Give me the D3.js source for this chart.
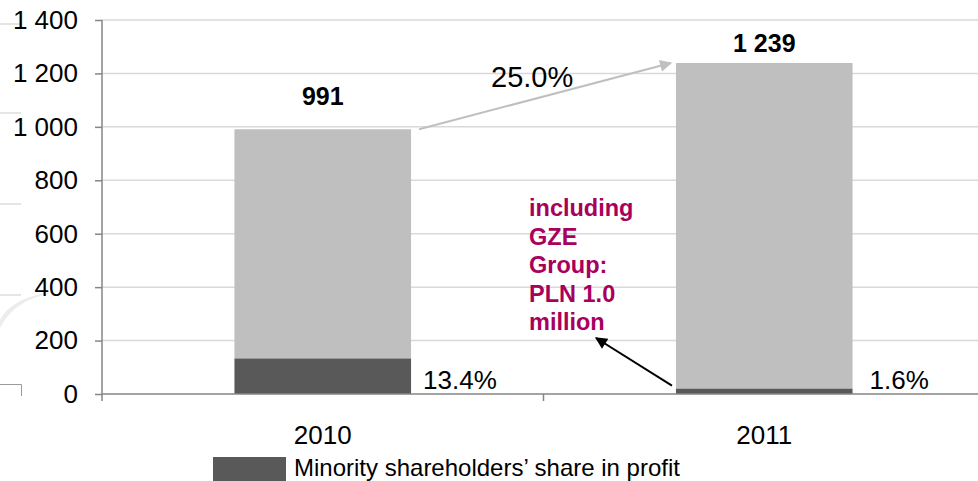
<!DOCTYPE html>
<html>
<head>
<meta charset="utf-8">
<script src="https://cdn.jsdelivr.net/npm/d3@7"></script>
<style>
  html, body { margin: 0; padding: 0; background: #fff; }
  svg { display: block; font-family: Arial, "Liberation Sans", sans-serif; }
</style>
</head>
<body>
<div id="chart"></div>
<script>
const years = ["2010", "2011"];
const netProfit = [991, 1239];
const minorityShare = [133, 20];
const minorityPct = ["13.4%", "1.6%"];
const growthLabel = "25.0%";
const yTicks = [0, 200, 400, 600, 800, 1000, 1200, 1400];
const noteLines = ["including", "GZE", "Group:", "PLN 1.0", "million"];
const legendLabel = "Minority shareholders\u2019 share in profit";

const W = 978, H = 481;
const margin = { top: 20, right: -7, bottom: 87, left: 102 };

const svg = d3.select("#chart").append("svg")
  .attr("width", W)
  .attr("height", H);

const x = d3.scaleBand()
  .domain(years)
  .range([margin.left, W - margin.right])
  .paddingInner(0.6)
  .paddingOuter(0.3);

const y = d3.scaleLinear()
  .domain([0, 1400])
  .range([H - margin.bottom, margin.top]);

const fmt = d3.formatLocale({ decimal: ".", thousands: " ", grouping: [3], currency: ["", ""] }).format(",");

// faint slide decoration on the left
const deco = svg.append("g").attr("stroke", "#dcdcdc").attr("stroke-width", 1.5).attr("fill", "none");
[24, 113, 204, 295].forEach(yy => deco.append("line").attr("x1", 0).attr("x2", 21).attr("y1", yy).attr("y2", yy));
svg.append("path")
  .attr("d", "M0,320 Q10,300 45,293 L40,296 Q12,304 0,328 Z")
  .attr("fill", "#ececec");
svg.append("path")
  .attr("d", "M0,384.5 H21.5 V396")
  .attr("fill", "none")
  .attr("stroke", "#9a9a9a")
  .attr("stroke-width", 1);

// gridlines
svg.append("g")
  .selectAll("line")
  .data(yTicks.filter(d => d > 0))
  .join("line")
  .attr("x1", margin.left)
  .attr("x2", W)
  .attr("y1", d => y(d))
  .attr("y2", d => y(d))
  .attr("stroke", "#d9d9d9")
  .attr("stroke-width", 1.5);

// bars
const barG = svg.append("g");
years.forEach((yr, i) => {
  barG.append("rect")
    .attr("x", x(yr))
    .attr("width", x.bandwidth())
    .attr("y", y(netProfit[i]))
    .attr("height", y(minorityShare[i]) - y(netProfit[i]))
    .attr("fill", "#bfbfbf");
  barG.append("rect")
    .attr("x", x(yr))
    .attr("width", x.bandwidth())
    .attr("y", y(minorityShare[i]))
    .attr("height", y(0) - y(minorityShare[i]))
    .attr("fill", "#595959");
});

// axes
const yAxis = svg.append("g")
  .attr("transform", `translate(${margin.left},0)`)
  .call(d3.axisLeft(y).tickValues(yTicks).tickFormat(fmt).tickSize(7).tickPadding(17));
yAxis.select(".domain").attr("stroke", "#868686").attr("stroke-width", 1.5).attr("d", `M0,${y(1400)}V${y(0) + 7}`);
yAxis.selectAll(".tick line").attr("stroke", "#868686").attr("stroke-width", 1.5);
yAxis.selectAll(".tick text").attr("font-size", 26).attr("fill", "#000").attr("font-family", "Arial, 'Liberation Sans', sans-serif");

const xAxis = svg.append("g")
  .attr("transform", `translate(0,${y(0)})`)
  .call(d3.axisBottom(x).tickSize(0).tickPadding(32));
xAxis.select(".domain").attr("stroke", "#868686").attr("stroke-width", 1.5).attr("d", `M${margin.left},0H${W}`);
xAxis.selectAll(".tick text").attr("font-size", 26).attr("fill", "#000").attr("font-family", "Arial, 'Liberation Sans', sans-serif");
// category boundary tick
const step = x.step();
svg.append("line")
  .attr("x1", x(years[1]) - (step - x.bandwidth()) / 2)
  .attr("x2", x(years[1]) - (step - x.bandwidth()) / 2)
  .attr("y1", y(0))
  .attr("y2", y(0) + 7)
  .attr("stroke", "#868686")
  .attr("stroke-width", 1.5);

// total labels
years.forEach((yr, i) => {
  svg.append("text")
    .attr("x", x(yr) + x.bandwidth() / 2)
    .attr("y", y(netProfit[i]) - (i === 0 ? 24 : 11))
    .attr("text-anchor", "middle")
    .attr("font-size", 25)
    .attr("font-weight", "bold")
    .text(fmt(netProfit[i]));
  svg.append("text")
    .attr("x", x(yr) + x.bandwidth() + (i === 0 ? 12 : 17))
    .attr("y", y(0) - 5)
    .attr("font-size", 26)
    .text(minorityPct[i]);
});

// arrows
const defs = svg.append("defs");
[["arrGray", "#bfbfbf"], ["arrBlack", "#000"]].forEach(([id, c]) => {
  defs.append("marker")
    .attr("id", id)
    .attr("viewBox", "0 0 10 10")
    .attr("refX", 9).attr("refY", 5)
    .attr("markerWidth", 7).attr("markerHeight", 6)
    .attr("markerUnits", "strokeWidth")
    .attr("orient", "auto")
    .append("path")
    .attr("d", "M0,0 L10,5 L0,10 Z")
    .attr("fill", c);
});

svg.append("line")
  .attr("x1", x(years[0]) + x.bandwidth() + 8)
  .attr("y1", y(netProfit[0]))
  .attr("x2", x(years[1]) - 5)
  .attr("y2", y(netProfit[1]))
  .attr("stroke", "#bfbfbf")
  .attr("stroke-width", 2)
  .attr("marker-end", "url(#arrGray)");

svg.append("text")
  .attr("x", 491)
  .attr("y", 87)
  .attr("font-size", 29)
  .text(growthLabel);

// GZE note
const noteX = 529, noteY = 216, lh = 28.5;
const note = svg.append("text")
  .attr("font-size", 23.5)
  .attr("font-weight", "bold")
  .attr("fill", "#a8005c");
noteLines.forEach((t, i) => {
  note.append("tspan").attr("x", noteX).attr("y", noteY + i * lh).text(t);
});

svg.append("line")
  .attr("x1", x(years[1]) - 4)
  .attr("y1", y(minorityShare[1]) - 3)
  .attr("x2", noteX + 67)
  .attr("y2", noteY + 4 * lh + 8)
  .attr("stroke", "#000")
  .attr("stroke-width", 2)
  .attr("marker-end", "url(#arrBlack)");

// legend
svg.append("rect")
  .attr("x", 213).attr("y", 457)
  .attr("width", 73).attr("height", 26)
  .attr("fill", "#595959");
svg.append("text")
  .attr("x", 294).attr("y", 476)
  .attr("font-size", 24)
  .text(legendLabel);
</script>
</body>
</html>
